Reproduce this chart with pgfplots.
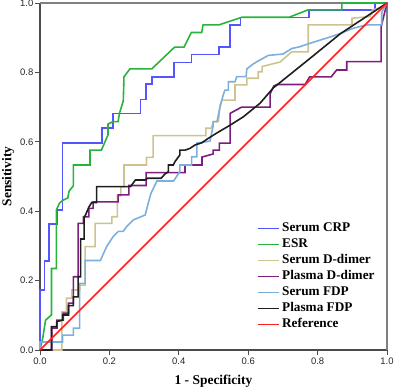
\documentclass[border=0pt]{standalone}
\usepackage{fontspec}
\setmainfont{Liberation Serif}
\newfontfamily\tickfont{Liberation Sans}
\usepackage{pgfplots}
\pgfplotsset{compat=1.18}
\usetikzlibrary{calc}
\definecolor{crp}{RGB}{85,85,255}
\definecolor{esr}{RGB}{40,180,60}
\definecolor{sdd}{RGB}{205,195,145}
\definecolor{pdd}{RGB}{125,30,125}
\definecolor{sfdp}{RGB}{125,175,220}
\definecolor{pfdp}{RGB}{30,30,30}
\definecolor{refc}{RGB}{255,30,30}
\begin{document}
\begin{tikzpicture}
\begin{axis}[name=ax, scale only axis, width=347bp, height=347bp,
  xmin=0, xmax=1, ymin=0, ymax=1,
  axis x line*=bottom, axis y line*=left,
  axis line style={draw=black!70, line width=1.1bp},
  xtick={0,0.2,0.4,0.6,0.8,1}, ytick={0,0.2,0.4,0.6,0.8,1},
  tick align=outside, major tick length=5bp,
  tick style={draw=black!70, line width=0.8bp},
  /pgf/number format/fixed, /pgf/number format/fixed zerofill,
  /pgf/number format/precision=1, /pgf/number format/assume math mode=true,
  ticklabel style={font=\tickfont\fontsize{9.5}{10}\selectfont, text=black!85},
  yticklabel style={inner xsep=1.5bp},
  xticklabel style={inner ysep=2.5bp},
  every axis x label/.style={at={(axis description cs:0.5,-0.089)}, anchor=center},
  every axis y label/.style={at={(axis description cs:-0.092,0.5)}, rotate=90, anchor=center},
  label style={font=\bfseries\fontsize{13.5}{15}\selectfont},
  xlabel={1 - Specificity}, ylabel={Sensitivity},
  legend style={draw=none, fill=none, at={(0.625,0.374)}, anchor=north west,
    inner sep=0pt, row sep=0pt,
    font=\bfseries\fontsize{13.3}{15}\selectfont,
    nodes={text height=9.5bp, text depth=3bp, inner ysep=1.75bp, inner xsep=2.5bp}},
  legend cell align=left,
  legend image code/.code={\draw[#1] (0bp,0bp) -- (21bp,0bp);},
  clip=false,
]
\draw[black!50, line width=1.4bp] (rel axis cs:0,1) -- (rel axis cs:1,1) -- (rel axis cs:1,0);
\addplot[crp, line width=1.6bp] coordinates {
(0,0) (0,0.173) (0.013,0.173) (0.013,0.256) (0.026,0.256) (0.026,0.363) (0.049,0.363) (0.049,0.403)
(0.065,0.403) (0.065,0.597) (0.178,0.597) (0.178,0.639) (0.210,0.639) (0.210,0.682) (0.290,0.682)
(0.290,0.722) (0.305,0.722) (0.305,0.767) (0.323,0.767) (0.323,0.787) (0.387,0.787) (0.387,0.829)
(0.437,0.829) (0.437,0.852) (0.516,0.852) (0.516,0.874) (0.548,0.874) (0.548,0.937) (0.578,0.937)
(0.578,0.958) (0.775,0.958) (0.775,0.980) (0.965,0.980) (0.965,1) (1,1)};
\addlegendentry{Serum CRP}
\addplot[esr, line width=1.6bp] coordinates {
(0,0) (0.008,0.035) (0.016,0.086) (0.033,0.101) (0.033,0.235) (0.047,0.235) (0.047,0.403) (0.056,0.423)
(0.065,0.431) (0.080,0.438) (0.084,0.458) (0.096,0.473) (0.096,0.533) (0.144,0.533) (0.144,0.576)
(0.177,0.576) (0.196,0.620) (0.196,0.651) (0.210,0.658) (0.225,0.658) (0.229,0.682) (0.240,0.718)
(0.242,0.787) (0.259,0.810) (0.322,0.810) (0.388,0.873) (0.415,0.873) (0.436,0.915) (0.466,0.915)
(0.470,0.937) (0.516,0.937) (0.582,0.959) (0.718,0.959) (0.772,0.980) (0.870,0.980) (0.870,1) (1,1)};
\addlegendentry{ESR}
\addplot[sdd, line width=1.6bp] coordinates {
(0,0) (0.063,0) (0.063,0.110) (0.076,0.110) (0.076,0.149) (0.092,0.149) (0.092,0.173) (0.115,0.173)
(0.115,0.187) (0.130,0.187) (0.130,0.298) (0.159,0.298) (0.159,0.365) (0.207,0.365) (0.207,0.384)
(0.223,0.384) (0.223,0.444) (0.233,0.444) (0.233,0.470) (0.242,0.470) (0.242,0.533) (0.307,0.533)
(0.307,0.555) (0.326,0.555) (0.326,0.618) (0.478,0.618) (0.478,0.639) (0.494,0.639) (0.499,0.658)
(0.514,0.658) (0.519,0.706) (0.524,0.720) (0.562,0.720) (0.562,0.764) (0.596,0.764) (0.596,0.783)
(0.629,0.783) (0.629,0.802) (0.640,0.802) (0.640,0.817) (0.692,0.830) (0.725,0.859) (0.773,0.859)
(0.773,0.937) (0.899,0.937) (0.899,0.956) (0.951,0.961) (0.958,0.980) (0.983,0.987) (1,1)};
\addlegendentry{Serum D-dimer}
\addplot[pdd, line width=1.6bp] coordinates {
(0,0) (0.034,0) (0.034,0.063) (0.049,0.063) (0.049,0.086) (0.067,0.086) (0.067,0.106) (0.082,0.106)
(0.082,0.135) (0.096,0.135) (0.096,0.211) (0.110,0.211) (0.110,0.365) (0.125,0.365) (0.125,0.384)
(0.141,0.384) (0.141,0.408) (0.153,0.408) (0.153,0.427) (0.225,0.427) (0.225,0.447) (0.256,0.447)
(0.256,0.474) (0.306,0.474) (0.306,0.511) (0.418,0.511) (0.418,0.533) (0.467,0.533) (0.467,0.556)
(0.499,0.565) (0.499,0.576) (0.517,0.576) (0.517,0.596) (0.548,0.596) (0.548,0.682) (0.581,0.700)
(0.663,0.700) (0.663,0.738) (0.674,0.761) (0.683,0.765) (0.764,0.765) (0.777,0.787) (0.839,0.787)
(0.855,0.807) (0.884,0.807) (0.884,0.831) (0.983,0.831) (0.983,0.931) (1,1)};
\addlegendentry{Plasma D-dimer}
\addplot[sfdp, line width=1.6bp] coordinates {
(0,0) (0,0.023) (0.065,0.023) (0.065,0.043) (0.096,0.043) (0.096,0.063) (0.114,0.063) (0.114,0.192)
(0.130,0.192) (0.130,0.258) (0.174,0.258) (0.192,0.298) (0.211,0.327) (0.226,0.342) (0.240,0.342)
(0.250,0.356) (0.269,0.375) (0.303,0.389) (0.312,0.423) (0.320,0.452) (0.337,0.487) (0.385,0.487)
(0.403,0.514) (0.403,0.533) (0.437,0.533) (0.437,0.557) (0.452,0.557) (0.452,0.596) (0.490,0.602)
(0.499,0.646) (0.499,0.658) (0.510,0.658) (0.519,0.701) (0.528,0.735) (0.533,0.749) (0.543,0.749)
(0.543,0.773) (0.562,0.773) (0.567,0.788) (0.594,0.788) (0.596,0.810) (0.614,0.824) (0.629,0.833)
(0.658,0.849) (0.700,0.853) (0.726,0.869) (0.749,0.874) (0.772,0.882) (0.807,0.893) (0.836,0.902)
(0.865,0.912) (0.902,0.927) (0.941,0.937) (0.985,0.937) (0.985,0.974) (1,1)};
\addlegendentry{Serum FDP}
\addplot[pfdp, line width=1.6bp] coordinates {
(0,0) (0.033,0) (0.033,0.067) (0.048,0.067) (0.048,0.082) (0.065,0.086) (0.065,0.101) (0.082,0.101)
(0.082,0.128) (0.096,0.128) (0.096,0.153) (0.110,0.153) (0.110,0.211) (0.117,0.211) (0.117,0.320)
(0.127,0.320) (0.127,0.380) (0.135,0.398) (0.141,0.412) (0.149,0.425) (0.163,0.425) (0.163,0.471)
(0.261,0.471) (0.275,0.490) (0.303,0.490) (0.310,0.495) (0.349,0.495) (0.360,0.507) (0.370,0.514)
(0.370,0.533) (0.384,0.533) (0.389,0.543) (0.403,0.562) (0.403,0.576) (0.418,0.576) (0.432,0.581)
(0.447,0.591) (0.466,0.597) (0.485,0.610) (0.509,0.625) (0.548,0.648) (0.586,0.672) (0.634,0.711)
(0.672,0.755) (0.769,0.833) (0.865,0.911) (1,1)};
\addlegendentry{Plasma FDP}
\addplot[refc, line width=1.6bp] coordinates {(0,0) (1,1)};
\addlegendentry{Reference}
\end{axis}
\pgfresetboundingbox
\path ($(ax.south west)+(-40bp,-40bp)$) rectangle ($(ax.north east)+(7bp,3bp)$);
\end{tikzpicture}
\end{document}
